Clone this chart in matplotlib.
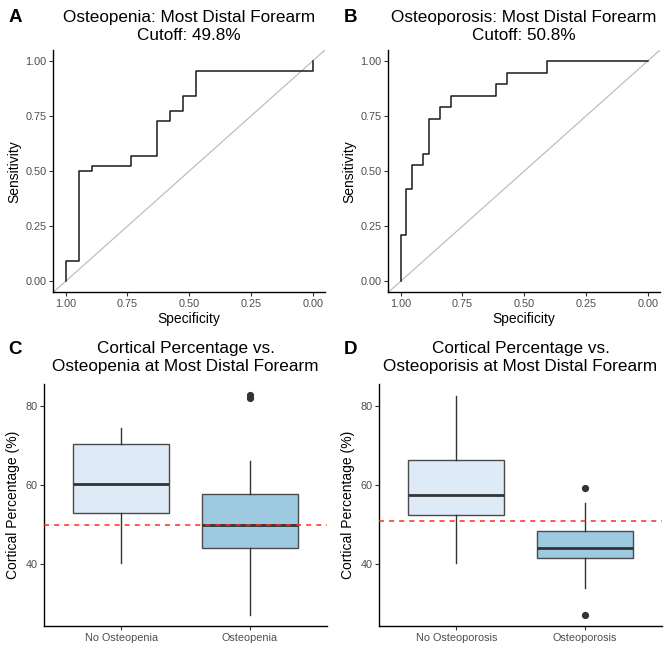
import matplotlib
matplotlib.use("Agg")
import matplotlib.pyplot as plt

plt.rcParams['font.family'] = ['Liberation Sans', 'DejaVu Sans']

# ---- ROC data (specificity, sensitivity step points) ----
roc_a_spec = [1.00, 1.00, 0.947, 0.895, 0.737, 0.632, 0.579, 0.526, 0.474, 0.00]
roc_a_sens = [0.00, 0.091, 0.500, 0.523, 0.568, 0.727, 0.773, 0.841, 0.955, 1.00]
roc_b_spec = [1.00, 1.00, 0.977, 0.955, 0.909, 0.886, 0.841, 0.795, 0.614, 0.568, 0.409, 0.00]
roc_b_sens = [0.00, 0.211, 0.421, 0.526, 0.579, 0.737, 0.789, 0.842, 0.895, 0.947, 1.00, 1.00]
roc_titles = ["Osteopenia: Most Distal Forearm\nCutoff: 49.8%",
              "Osteoporosis: Most Distal Forearm\nCutoff: 50.8%"]
roc_ticks = [1.00, 0.75, 0.50, 0.25, 0.00]
roc_ticklabels = ["1.00", "0.75", "0.50", "0.25", "0.00"]

# ---- Boxplot data ----
c_labels = ["No Osteopenia", "Osteopenia"]
c_whislo = [40.3, 27.1]
c_q1 = [52.9, 44.0]
c_med = [60.1, 49.9]
c_q3 = [70.2, 57.6]
c_whishi = [74.4, 66.1]
c_fliers = [[], [82.0, 82.6]]
c_cutoff = 49.8

d_labels = ["No Osteoporosis", "Osteoporosis"]
d_whislo = [40.3, 34.0]
d_q1 = [52.4, 41.4]
d_med = [57.5, 44.0]
d_q3 = [66.3, 48.4]
d_whishi = [82.5, 55.5]
d_fliers = [[], [59.2, 27.1]]
d_cutoff = 50.8

box_titles = ["Cortical Percentage vs.\nOsteopenia at Most Distal Forearm",
              "Cortical Percentage vs.\nOsteoporisis at Most Distal Forearm"]
box_fills = ["#DEEBF7", "#9ECAE1"]

W, H = 669, 650
fig = plt.figure(figsize=(W / 100, H / 100), dpi=100)


def add_ax(l, r, t, b):
    return fig.add_axes([l / W, 1 - b / H, (r - l) / W, (b - t) / H])


TICK_COL = "#4D4D4D"


def style(ax):
    for s in ["top", "right"]:
        ax.spines[s].set_visible(False)
    for s in ["left", "bottom"]:
        ax.spines[s].set_linewidth(1.0)
        ax.spines[s].set_color("black")
    ax.tick_params(axis="both", colors="#333333", labelcolor=TICK_COL,
                   labelsize=7.8, length=2.8, width=0.8, pad=2)
    ax.set_facecolor("white")


# ROC panels
roc_boxes = [(53.3, 325.0, 50.0, 292.3), (388.3, 660.0, 50.0, 292.3)]
roc_data = [(roc_a_spec, roc_a_sens), (roc_b_spec, roc_b_sens)]
letters_top = ["A", "B"]
for i, (box, (sp, se)) in enumerate(zip(roc_boxes, roc_data)):
    ax = add_ax(*box)
    style(ax)
    ax.axline((1, 0), (0, 1), color="#BEBEBE", lw=0.9, zorder=1)
    ax.plot(sp, se, drawstyle="steps-post", color="#1A1A1A", lw=1.1, zorder=2)
    ax.set_xlim(1.05, -0.05)
    ax.set_ylim(-0.05, 1.05)
    ax.set_xticks(roc_ticks)
    ax.set_xticklabels(roc_ticklabels)
    ax.set_yticks(roc_ticks[::-1])
    ax.set_yticklabels(roc_ticklabels[::-1])
    ax.set_xlabel("Specificity", fontsize=10, labelpad=2.5)
    ax.set_ylabel("Sensitivity", fontsize=10, labelpad=3)
    ax.set_title(roc_titles[i], fontsize=12.3, pad=7, linespacing=1.25)
    fig.text((box[0] - 38) / W, 1 - 17 / H, letters_top[i], fontsize=13.5,
             fontweight="bold", ha="center", va="center")

# Box panels
box_boxes = [(44.3, 326.7, 384.3, 626.0), (379.3, 661.7, 384.3, 626.0)]
box_sets = [
    (c_labels, c_whislo, c_q1, c_med, c_q3, c_whishi, c_fliers, c_cutoff),
    (d_labels, d_whislo, d_q1, d_med, d_q3, d_whishi, d_fliers, d_cutoff),
]
letters_bot = ["C", "D"]
for i, (box, data) in enumerate(zip(box_boxes, box_sets)):
    labels, wlo, q1, med, q3, whi, fl, cut = data
    ax = add_ax(*box)
    style(ax)
    stats = []
    for j in range(2):
        stats.append(dict(label=labels[j], whislo=wlo[j], q1=q1[j], med=med[j],
                          q3=q3[j], whishi=whi[j], fliers=fl[j]))
    bp = ax.bxp(stats, positions=[1, 2], widths=0.75, patch_artist=True,
                showcaps=False,
                boxprops=dict(edgecolor="#4A4A4A", linewidth=1.0),
                whiskerprops=dict(color="#333333", linewidth=1.0),
                medianprops=dict(color="#333333", linewidth=2.0),
                flierprops=dict(marker="o", markerfacecolor="#333333",
                                markeredgecolor="#333333", markersize=4.2))
    for patch, col in zip(bp["boxes"], box_fills):
        patch.set_facecolor(col)
    ax.axhline(cut, color="#FF2A1A", lw=1.1, dashes=(3.3, 3.3), zorder=5)
    ax.set_xlim(0.4, 2.6)
    ax.set_ylim(24.3, 85.4)
    ax.set_yticks([40, 60, 80])
    ax.set_xticks([1, 2])
    ax.set_xticklabels(labels)
    ax.set_ylabel("Cortical Percentage (%)", fontsize=10, labelpad=4)
    ax.set_title(box_titles[i], fontsize=12.3, pad=9.5, linespacing=1.25)
    fig.text((box[0] - 29) / W, 1 - 349 / H, letters_bot[i], fontsize=13.5,
             fontweight="bold", ha="center", va="center")

fig.savefig("out.png", dpi=100, facecolor="white")
